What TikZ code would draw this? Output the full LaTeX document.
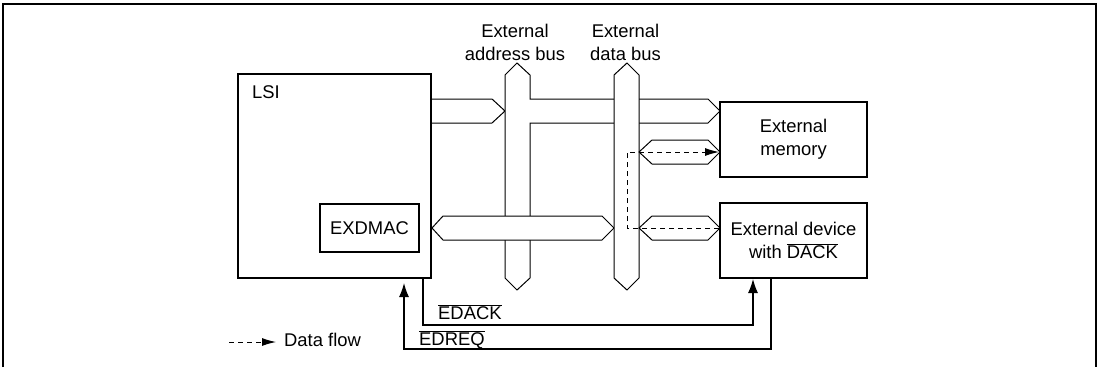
\documentclass[tikz,border=0pt]{standalone}
\usepackage{fontspec}
\setmainfont{Liberation Sans}
\usetikzlibrary{arrows.meta}
\newcommand{\ovl}[1]{$\overline{\mbox{#1}}$}

\begin{document}
\begin{tikzpicture}[x=1pt, y=-1pt, >={Latex[length=14pt,width=10pt]},
    every node/.style={font=\fontsize{18.4}{23}\selectfont, inner sep=0pt},
    blk/.style={draw, line width=2pt, align=center},
    bus/.style={draw, fill=white, line width=1pt, line join=miter},
    sig/.style={line width=1.2pt},
    flow/.style={line width=1pt, dash pattern=on 5pt off 4pt, >={Latex[length=14pt,width=8pt]}},
    frame/.style={line width=2.5pt}]
  \useasboundingbox (0,0) rectangle (1101,367);
  \draw[frame] (3,367) -- (3,4) -- (1096,4) -- (1096,367);
  % Buses first, so the block borders sit on top of the arrow tips.
  \path[bus] (432,99) -- (492,99) -- (505,111) -- (492,123) -- (432,123);
  \path[bus] (517,63) -- (530,75) -- (530,99) -- (708,99) -- (720,111) -- (708,123) -- (530,123)
    -- (530,278) -- (517,290) -- (505,278) -- (505,75) -- cycle;
  \path[bus] (432,228) -- (443,216) -- (602,216) -- (614,228) -- (602,240) -- (443,240) -- cycle;
  \path[bus] (627,63) -- (639,75) -- (639,278) -- (627,290) -- (614,278) -- (614,75) -- cycle;
  \path[bus] (639,152) -- (652,140) -- (708,140) -- (720,152) -- (708,164) -- (652,164) -- cycle;
  \path[bus] (639,228) -- (652,216) -- (708,216) -- (720,228) -- (708,240) -- (652,240) -- cycle;
  \node[blk, minimum width=193pt, minimum height=204pt] (lsi) at (334.5,176) {};
  \node[anchor=west] (lsilbl) at ([xshift=15pt,yshift=-19pt]lsi.north west) {LSI};
  \node[blk, minimum width=99pt, minimum height=48pt] (exdmac) at (369.5,228) {EXDMAC};
  \node[blk, minimum width=147pt, minimum height=75pt] (mem) at (793.5,139.5) {External\\memory};
  \node[blk, minimum width=147pt, minimum height=75pt] (dev) at (793.5,240.5) {External device\\with \ovl{DACK}};
  \node[align=center, anchor=south] (abuslbl) at (515,61) {External\\address bus};
  \node[align=center, anchor=south] (dbuslbl) at (625.5,61) {External\\data bus};
  % Data flow: device -> data bus -> memory
  \coordinate (tapm) at (627,152);
  \coordinate (tapd) at (627,228);
  \draw[flow,->] (dev.west |- tapd) -- (tapd) -- (tapm) -- (mem.west |- tapm);
  % Handshake lines
  \coordinate (ackc) at ([xshift=-9pt,yshift=-46pt]lsi.south east);
  \draw[sig,->] ([xshift=-9pt]lsi.south east) -- (ackc) -| ([xshift=34pt]dev.south west);
  \node[anchor=south west] (edack) at ([xshift=15pt,yshift=5pt]ackc) {\ovl{EDACK}};
  \coordinate (reqc) at ([xshift=-28pt,yshift=-70pt]lsi.south east);
  \draw[sig,->,shorten >=4pt] ([xshift=52pt]dev.south west) |- (reqc) -- ([xshift=-28pt]lsi.south east);
  \node[anchor=base west] (edreq) at ([xshift=15pt,yshift=4pt]reqc) {\ovl{EDREQ}};
  % Legend
  \node[anchor=west] (flowlbl) at (284,340) {Data flow};
  \coordinate (flowbeg) at (229,342);
  \draw[flow,->,shorten >=8pt] (flowbeg) -- (flowbeg -| flowlbl.west);
\end{tikzpicture}
\end{document}
